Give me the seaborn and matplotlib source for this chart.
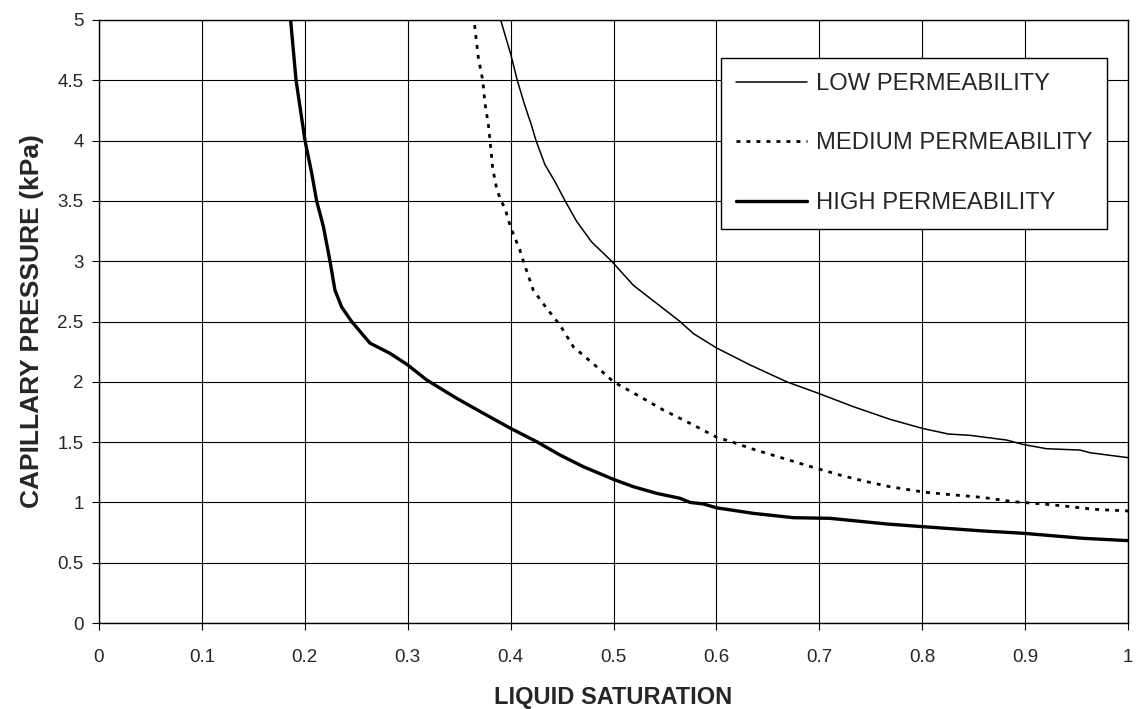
import matplotlib
matplotlib.use("Agg")
import matplotlib.pyplot as plt
import seaborn as sns
import numpy as np

# ---- data ----
low_x = [0.389, 0.3946, 0.400, 0.4065, 0.4137, 0.4202, 0.4247, 0.4334, 0.4431, 0.453,
         0.4642, 0.4787, 0.4982, 0.5193, 0.542, 0.5646, 0.5776, 0.6003, 0.6165, 0.6327,
         0.6683, 0.699, 0.733, 0.7687, 0.800, 0.8254, 0.8465, 0.882, 0.8983, 0.921,
         0.9534, 0.963, 1.0]
low_y = [5.04, 4.876, 4.72, 4.5, 4.295, 4.13, 4.0, 3.80, 3.66, 3.5,
         3.33, 3.16, 3.0, 2.80, 2.65, 2.5, 2.40, 2.28, 2.21, 2.14,
         2.0, 1.905, 1.794, 1.689, 1.614, 1.567, 1.556, 1.517, 1.48, 1.445,
         1.434, 1.412, 1.371]

med_x = [0.3638, 0.3654, 0.3686, 0.3729, 0.3751, 0.3784, 0.380, 0.3826, 0.3865, 0.3907,
         0.3946, 0.3978, 0.401, 0.4091, 0.4124, 0.422, 0.435, 0.448, 0.461, 0.4837,
         0.500, 0.5258, 0.5484, 0.5776, 0.6003, 0.6165, 0.6327, 0.6489, 0.692, 0.7233,
         0.746, 0.7687, 0.8027, 0.8238, 0.858, 0.8887, 0.921, 0.9437, 0.9663, 1.0]
med_y = [5.04, 4.93, 4.69, 4.5, 4.31, 4.13, 4.0, 3.77, 3.60, 3.5,
         3.44, 3.34, 3.26, 3.09, 3.0, 2.76, 2.61, 2.47, 2.29, 2.125,
         2.0, 1.877, 1.766, 1.642, 1.54, 1.498, 1.449, 1.407, 1.296, 1.219,
         1.172, 1.13, 1.084, 1.067, 1.042, 1.006, 0.984, 0.965, 0.943, 0.929]

high_x = [0.186, 0.188, 0.1915, 0.2002, 0.2067, 0.2115, 0.218, 0.2245, 0.2293, 0.2358,
          0.2455, 0.2634, 0.2828, 0.300, 0.3185, 0.3476, 0.3735, 0.400, 0.4254, 0.448,
          0.4707, 0.500, 0.5193, 0.542, 0.5646, 0.5743, 0.5873, 0.6003, 0.636, 0.675,
          0.7104, 0.7655, 0.800, 0.8594, 0.898, 0.9566, 1.0]
high_y = [5.02, 4.83, 4.5, 4.0, 3.73, 3.5, 3.29, 3.0, 2.76, 2.62,
          2.5, 2.32, 2.236, 2.14, 2.015, 1.863, 1.739, 1.614, 1.503, 1.393,
          1.296, 1.191, 1.13, 1.075, 1.034, 1.0, 0.987, 0.955, 0.909, 0.873,
          0.868, 0.821, 0.799, 0.763, 0.744, 0.702, 0.683]

series_labels = ["LOW PERMEABILITY", "MEDIUM PERMEABILITY", "HIGH PERMEABILITY"]
x_ticks = [0, 0.1, 0.2, 0.3, 0.4, 0.5, 0.6, 0.7, 0.8, 0.9, 1]
x_tick_labels = ["0", "0.1", "0.2", "0.3", "0.4", "0.5", "0.6", "0.7", "0.8", "0.9", "1"]
y_ticks = [0, 0.5, 1, 1.5, 2, 2.5, 3, 3.5, 4, 4.5, 5]
y_tick_labels = ["0", "0.5", "1", "1.5", "2", "2.5", "3", "3.5", "4", "4.5", "5"]
x_title = "LIQUID SATURATION"
y_title = "CAPILLARY PRESSURE (kPa)"

# ---- styling ----
sns.set_theme(style="white")
plt.rcParams["font.family"] = ["Liberation Sans", "DejaVu Sans"]

W, H = 1138, 709
fig = plt.figure(figsize=(W / 100, H / 100), dpi=100)
ax = fig.add_axes([99 / W, 1 - 623 / H, (1128 - 99) / W, (623 - 20) / H])

sns.lineplot(x=low_x, y=low_y, ax=ax, sort=False, estimator=None, color="black",
             linewidth=1.1, label=series_labels[0])
sns.lineplot(x=med_x, y=med_y, ax=ax, sort=False, estimator=None, color="black",
             linewidth=2.0, linestyle=(0, (1.4, 2.2)), label=series_labels[1])
sns.lineplot(x=high_x, y=high_y, ax=ax, sort=False, estimator=None, color="black",
             linewidth=2.4, label=series_labels[2])

ax.set_xlim(0, 1)
ax.set_ylim(0, 5)
ax.set_xticks(x_ticks)
ax.set_xticklabels(x_tick_labels)
ax.set_yticks(y_ticks)
ax.set_yticklabels(y_tick_labels)
ax.grid(True, color="black", linewidth=0.8)
ax.set_axisbelow(True)
for s in ax.spines.values():
    s.set_color("black")
    s.set_linewidth(1.0)
ax.tick_params(axis="both", which="both", direction="out", length=5, width=0.8,
               color="black", labelsize=13.5, bottom=True, left=True)
ax.tick_params(axis="x", pad=14)
ax.tick_params(axis="y", pad=6)
ax.set_xlabel(x_title, fontsize=17, fontweight="bold", labelpad=14)
ax.set_ylabel(y_title, fontsize=19, fontweight="bold", labelpad=10)

leg = ax.legend(loc="upper right", bbox_to_anchor=((1107 - 99) / 1029, (623 - 58) / 603),
                borderaxespad=0, fontsize=17.1, frameon=True, fancybox=False,
                handlelength=3.0, handletextpad=0.34, labelspacing=1.58,
                borderpad=0.63)
leg.get_frame().set_edgecolor("black")
leg.get_frame().set_linewidth(1.0)
leg.get_frame().set_alpha(1)

fig.savefig("out.png", dpi=100)
